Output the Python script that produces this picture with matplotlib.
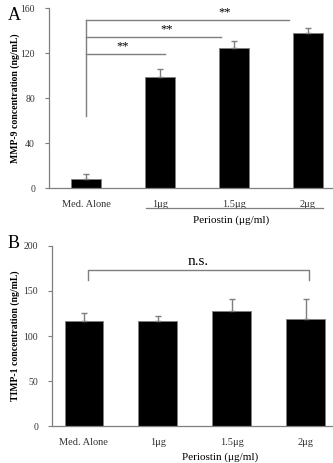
import matplotlib
matplotlib.use("Agg")
import matplotlib.pyplot as plt
import numpy as np

groups = ["Med. Alone", "1\u03bcg", "1.5\u03bcg", "2\u03bcg"]

mmp9 = [8.3, 99.2, 125.0, 137.8]
mmp9_err = [4.4, 6.5, 6.0, 4.5]

timp1 = [116.9, 116.4, 128.0, 119.0]
timp1_err = [9.0, 5.5, 13.0, 22.0]

gray = "#7f7f7f"
serif = ["Liberation Serif", "DejaVu Serif"]
plt.rcParams["font.family"] = serif

fig = plt.figure(figsize=(3.33, 4.63), dpi=100)
x = np.arange(len(groups))


def style(ax, ylim, yticks):
    ax.set_ylim(*ylim)
    ax.set_yticks(yticks)
    for s in ["top", "right"]:
        ax.spines[s].set_visible(False)
    for s in ["left", "bottom"]:
        ax.spines[s].set_color(gray)
        ax.spines[s].set_linewidth(0.9)
    ax.tick_params(axis="y", direction="out", length=3, color=gray, labelsize=7, labelcolor="#333333", pad=7)
    ax.tick_params(axis="x", length=0, labelsize=7.5, labelcolor="#333333", pad=8)
    ax.set_xticks(x)
    ax.set_xticklabels(groups)


# panel A
axA = fig.add_axes([0.147, 0.593, 0.889, 0.389])
axA.bar(x, mmp9, width=0.4, color="black", edgecolor=gray, linewidth=0.6)
axA.errorbar(x, mmp9, yerr=[np.zeros(4), mmp9_err], fmt="none", ecolor=gray, elinewidth=1, capsize=2)
axA.set_xlim(-0.5, 3.5)
style(axA, (0, 160), [0, 40, 80, 120, 160])
axA.set_ylabel("MMP-9 concentration (ng/mL)", fontsize=7, fontweight="bold")
axA.yaxis.set_label_coords(-0.098, 0.5)

# significance lines
axA.plot([0, 0], [64.5, 149.6], color=gray, lw=1)
axA.plot([0, 2.74], [149.6, 149.6], color=gray, lw=1)
axA.plot([0, 1.83], [134.5, 134.5], color=gray, lw=1)
axA.plot([0, 1.07], [119.7, 119.7], color=gray, lw=1)
axA.text(0.49, 121, "**", ha="center", va="bottom", fontsize=9)
axA.text(1.09, 136, "**", ha="center", va="bottom", fontsize=9)
axA.text(1.88, 151, "**", ha="center", va="bottom", fontsize=9)

fig.text(0.024, 0.985, "A", fontsize=13, ha="left", va="top")
# periostin label with line
axA.plot([0.81, 3.2], [-0.111, -0.111], color=gray, lw=0.9,
         transform=axA.get_xaxis_transform(), clip_on=False)
axA.text(1.96, -0.176, "Periostin (\u03bcg/ml)", transform=axA.get_xaxis_transform(),
         ha="center", va="center", fontsize=8)

# panel B
axB = fig.add_axes([0.156, 0.079, 0.873, 0.39])
axB.bar(x, timp1, width=0.52, color="black", edgecolor=gray, linewidth=0.6)
axB.errorbar(x, timp1, yerr=[np.zeros(4), timp1_err], fmt="none", ecolor=gray, elinewidth=1, capsize=2)
axB.set_xlim(-0.43, 3.5)
style(axB, (0, 200), [0, 50, 100, 150, 200])
axB.set_ylabel("TIMP-1 concentration (ng/mL)", fontsize=7, fontweight="bold")
axB.yaxis.set_label_coords(-0.11, 0.5)

axB.plot([0.06, 0.06, 3.04, 3.04], [162, 172.8, 172.8, 162], color=gray, lw=1)
axB.text(1.55, 175, "n.s.", ha="center", va="bottom", fontsize=11)
fig.text(0.024, 1 - 235 / 463, "B", fontsize=13, ha="left", va="top")
axB.text(1.84, -0.17, "Periostin (\u03bcg/ml)", transform=axB.get_xaxis_transform(),
         ha="center", va="center", fontsize=8)

fig.savefig("out.png", dpi=100)
